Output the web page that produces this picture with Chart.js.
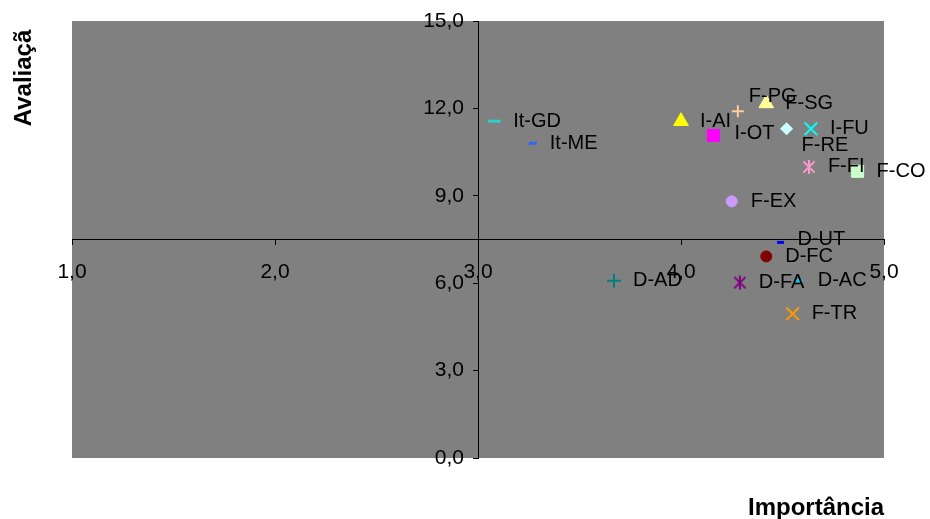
<!DOCTYPE html>
<html>
<head>
<meta charset="utf-8">
<script src="https://cdn.jsdelivr.net/npm/chart.js@4/dist/chart.umd.min.js"></script>
<style>
  html, body { margin: 0; padding: 0; background: #ffffff; }
  #wrap { width: 930px; height: 519px; position: relative; }
</style>
</head>
<body>
<div id="wrap"><canvas id="c" width="930" height="519"></canvas></div>
<script>
// ---- data ----
const names = ['It-GD','It-ME','I-AI','I-OT','F-PG','F-SG','F-RE','I-FU','F-FI','F-CO','F-EX','D-UT','D-FC','D-AD','D-FA','D-AC','F-TR'];
const importancia = [3.08, 3.27, 4.00, 4.16, 4.28, 4.42, 4.52, 4.64, 4.63, 4.87, 4.25, 4.49, 4.42, 3.67, 4.29, 4.58, 4.55];
const avaliacao   = [11.56, 10.80, 11.56, 11.07, 11.90, 12.17, 11.30, 11.30, 9.99, 9.84, 8.81, 7.40, 6.92, 6.08, 6.02, 6.08, 4.95];
const xTicks = [1, 2, 3, 4, 5];
const yTicks = [0, 3, 6, 9, 12, 15];
const xTitle = 'Importância';
const yTitle = 'Avaliaçã';

// ---- styles ----
const colors = ['#33CCCC','#3366FF','#FFFF00','#FF00FF','#FFCC99','#FFFF99','#CCFFFF','#00FFFF','#FF99CC','#CCFFCC','#CC99FF','#0000FF','#800000','#008080','#800080','#00CCFF','#FF9900'];
const markers = ['line','line','triangle','rect','cross','triangle','rectRot','crossRot','asterisk','rect','circle','line','circle','cross','asterisk','line','crossRot'];
const radii = [6.5, 4, 8.5, 8.5, 6, 8.5, 6, 9, 7, 8.5, 5.5, 3.5, 5.5, 7, 7, 4, 9];
const labelShift = { 'F-PG': [11, -15], 'F-RE': [15, 17], 'D-UT': [17, -3], 'I-OT': [21, -2], 'It-ME': [17, 0] };
const yLabelGap = 14;

function asterisk(color, r) {
  const s = Math.ceil(r * 2 + 4);
  const cv = document.createElement('canvas');
  cv.width = s; cv.height = s;
  const g = cv.getContext('2d');
  const c = s / 2;
  g.strokeStyle = color; g.lineWidth = 2;
  g.beginPath();
  g.moveTo(c, c - r); g.lineTo(c, c + r);
  const d = r * 0.8;
  g.moveTo(c - d, c - d); g.lineTo(c + d, c + d);
  g.moveTo(c + d, c - d); g.lineTo(c - d, c + d);
  g.stroke();
  return cv;
}
const fmt = v => v.toFixed(1).replace('.', ',');

const datasets = names.map((n, i) => {
  const m = markers[i];
  const filled = ['triangle','rect','rectRot','circle'].includes(m);
  return {
    label: n,
    data: [{ x: importancia[i], y: avaliacao[i] }],
    pointStyle: m === 'asterisk' ? asterisk(colors[i], radii[i]) : m,
    pointRadius: radii[i],
    pointHoverRadius: radii[i],
    backgroundColor: colors[i],
    borderColor: colors[i],
    pointBorderWidth: m === 'line' ? 3 : (filled ? 1 : 2),
  };
});

const bgPlugin = {
  id: 'bg',
  beforeDraw(chart) {
    const { ctx, chartArea: a } = chart;
    ctx.save();
    ctx.fillStyle = '#808080';
    ctx.fillRect(a.left, a.top, a.right - a.left, a.bottom - a.top);
    ctx.restore();
  }
};

const labelPlugin = {
  id: 'labels',
  afterDatasetsDraw(chart) {
    const ctx = chart.ctx;
    ctx.save();
    ctx.font = '20px "Liberation Sans", Arial, sans-serif';
    ctx.fillStyle = '#000000';
    ctx.textBaseline = 'middle';
    ctx.textAlign = 'left';
    chart.data.datasets.forEach((ds, i) => {
      const el = chart.getDatasetMeta(i).data[0];
      const sh = labelShift[ds.label] || [19, 0];
      ctx.fillText(ds.label, el.x + sh[0], el.y + sh[1]);
    });
    // axis titles
    ctx.font = 'bold 24px "Liberation Sans", Arial, sans-serif';
    ctx.textAlign = 'right';
    ctx.textBaseline = 'alphabetic';
    ctx.fillText(xTitle, 884, 515);
    ctx.translate(31, 78);
    ctx.rotate(-Math.PI / 2);
    ctx.textAlign = 'center';
    ctx.fillText(yTitle, 0, 0);
    ctx.restore();
  }
};

// shift y tick labels left of the crossing axis line
function shiftYLabels(scale) {
  if (scale._gapPatched) return;
  scale._gapPatched = true;
  const orig = scale.getLabelItems.bind(scale);
  scale.getLabelItems = (ca) => {
    const items = orig(ca);
    if (!items._shifted) {
      items.forEach(it => { it.options.translation = [it.options.translation[0] - yLabelGap, it.options.translation[1]]; });
      items._shifted = true;
    }
    return items;
  };
}

new Chart(document.getElementById('c'), {
  type: 'scatter',
  data: { datasets },
  options: {
    responsive: false,
    animation: false,
    devicePixelRatio: 1,
    layout: { padding: { left: 72, right: 46, top: 21, bottom: 61 } },
    plugins: { legend: { display: false }, tooltip: { enabled: false } },
    font: { family: '"Liberation Sans", Arial, sans-serif' },
    scales: {
      x: {
        type: 'linear',
        min: 1, max: 5,
        position: { y: 7.5 },
        afterBuildTicks: s => { s.ticks = xTicks.map(v => ({ value: v })); },
        grid: { drawOnChartArea: false, tickLength: 5, color: '#000000' },
        border: { color: '#000000', width: 1 },
        ticks: { color: '#000000', font: { size: 21, family: '"Liberation Sans", Arial, sans-serif' }, padding: 15, maxRotation: 0, callback: v => fmt(v) }
      },
      y: {
        type: 'linear',
        min: 0, max: 15,
        position: { x: 3 },
        afterBuildTicks: s => { s.ticks = yTicks.map(v => ({ value: v })); },
        afterUpdate: shiftYLabels,
        grid: { drawOnChartArea: false, tickLength: 5, color: '#000000' },
        border: { color: '#000000', width: 1 },
        ticks: { color: '#000000', font: { size: 21, family: '"Liberation Sans", Arial, sans-serif' }, padding: 8, callback: v => fmt(v) }
      }
    }
  },
  plugins: [bgPlugin, labelPlugin]
});
</script>
</body>
</html>
